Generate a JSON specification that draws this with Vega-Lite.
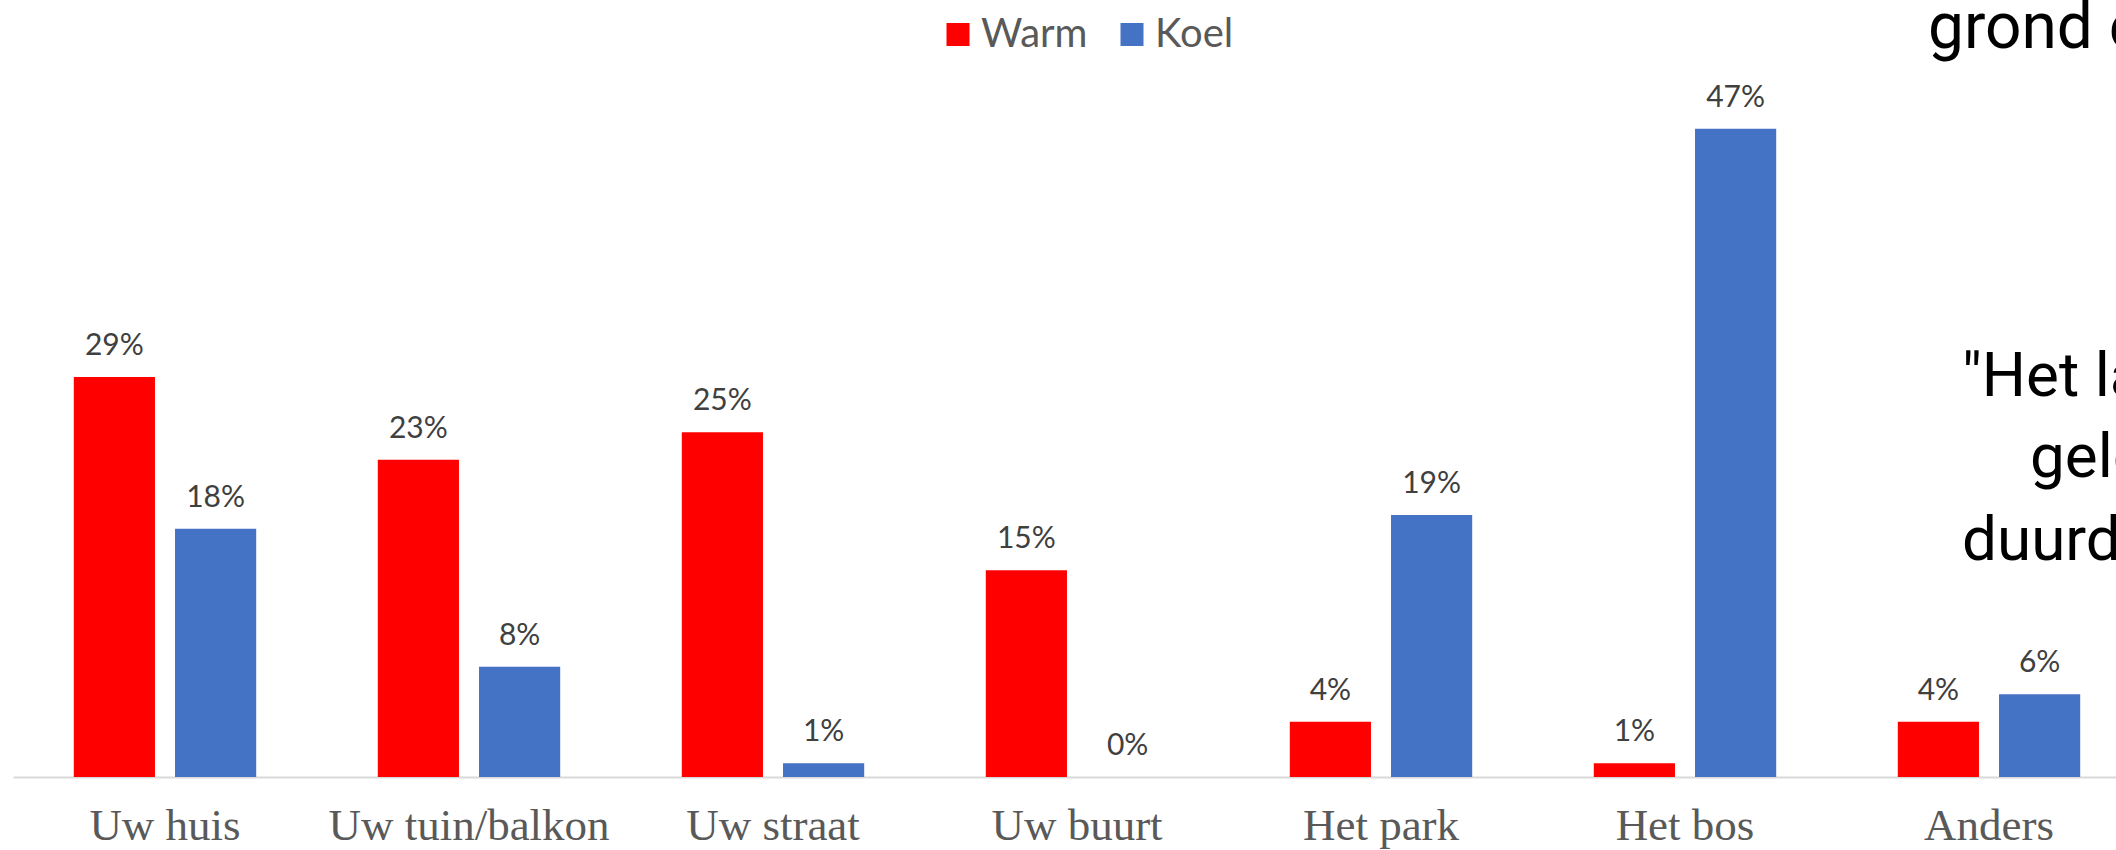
{
  "$schema": "https://vega.github.io/schema/vega-lite/v6.json",
  "width": 2116,
  "height": 689.5,
  "autosize": {"type": "none"},
  "padding": {"left": 0, "right": 0, "top": 87.5, "bottom": 73},
  "background": "#ffffff",
  "config": {"view": {"stroke": null}, "font": "Lato"},
  "datasets": {
    "bars": [
      {"plaats": "Uw huis", "type": "Warm", "waarde": 0.29},
      {"plaats": "Uw huis", "type": "Koel", "waarde": 0.18},
      {"plaats": "Uw tuin/balkon", "type": "Warm", "waarde": 0.23},
      {"plaats": "Uw tuin/balkon", "type": "Koel", "waarde": 0.08},
      {"plaats": "Uw straat", "type": "Warm", "waarde": 0.25},
      {"plaats": "Uw straat", "type": "Koel", "waarde": 0.01},
      {"plaats": "Uw buurt", "type": "Warm", "waarde": 0.15},
      {"plaats": "Uw buurt", "type": "Koel", "waarde": 0.0},
      {"plaats": "Het park", "type": "Warm", "waarde": 0.04},
      {"plaats": "Het park", "type": "Koel", "waarde": 0.19},
      {"plaats": "Het bos", "type": "Warm", "waarde": 0.01},
      {"plaats": "Het bos", "type": "Koel", "waarde": 0.47},
      {"plaats": "Anders", "type": "Warm", "waarde": 0.04},
      {"plaats": "Anders", "type": "Koel", "waarde": 0.06}
    ],
    "notes": [
      {"plaats": "Anders", "groep": "a", "pos": 0.5287, "note": "grond e"},
      {"plaats": "Anders", "groep": "b", "pos": 0.2763, "note": "\"Het la"},
      {"plaats": "Anders", "groep": "c", "pos": 0.2176, "note": "geld"},
      {"plaats": "Anders", "groep": "b", "pos": 0.1574, "note": "duurde"}
    ]
  },
  "layer": [
    {
      "data": {"name": "bars"},
      "mark": {"type": "bar"},
      "encoding": {
        "x": {
          "field": "plaats", "type": "nominal",
          "scale": {"domain": ["Uw huis", "Uw tuin/balkon", "Uw straat", "Uw buurt", "Het park", "Het bos", "Anders"], "range": [13, 2141], "paddingInner": 0.4, "paddingOuter": 0.2},
          "axis": {"title": null, "labelAngle": 0, "ticks": false, "tickSize": 0, "domainColor": "#D9D9D9", "domainWidth": 2, "labelFont": "Liberation Serif", "labelFontSize": 45, "labelColor": "#595959", "labelBaseline": "alphabetic", "labelPadding": 62, "labelLimit": 400}
        },
        "xOffset": {"field": "type", "type": "nominal", "scale": {"domain": ["Warm", "Koel"], "paddingInner": 0.198, "paddingOuter": 0}},
        "y": {"field": "waarde", "type": "quantitative", "scale": {"domain": [0, 0.5]}, "axis": null},
        "color": {
          "field": "type", "type": "nominal",
          "scale": {"domain": ["Warm", "Koel"], "range": ["#FF0000", "#4472C4"]},
          "legend": {"title": null, "orient": "none", "direction": "horizontal", "legendX": 938, "legendY": -73, "symbolType": "square", "symbolSize": 529, "symbolStrokeWidth": 0, "symbolOpacity": 1, "labelFontSize": 40, "labelFont": "Lato", "labelColor": "#595959", "labelOffset": 3, "columnPadding": 24, "padding": 0}
        }
      }
    },
    {
      "data": {"name": "bars"},
      "mark": {"type": "text", "baseline": "alphabetic", "dy": -22, "fontSize": 30, "font": "Lato", "color": "#404040"},
      "encoding": {
        "x": {"field": "plaats", "type": "nominal", "scale": {"domain": ["Uw huis", "Uw tuin/balkon", "Uw straat", "Uw buurt", "Het park", "Het bos", "Anders"]}},
        "xOffset": {"field": "type", "type": "nominal", "scale": {"domain": ["Warm", "Koel"]}},
        "y": {"field": "waarde", "type": "quantitative", "scale": {"domain": [0, 0.5]}},
        "text": {"field": "waarde", "type": "quantitative", "format": ".0%"}
      }
    },
    {
      "data": {"name": "notes"},
      "transform": [{"filter": "datum.groep == 'a'"}],
      "mark": {"type": "text", "align": "left", "baseline": "alphabetic", "dx": -61, "fontSize": 64, "font": "Roboto", "color": "#000000"},
      "encoding": {
        "x": {"field": "plaats", "type": "nominal", "scale": {"domain": ["Uw huis", "Uw tuin/balkon", "Uw straat", "Uw buurt", "Het park", "Het bos", "Anders"]}},
        "y": {"field": "pos", "type": "quantitative", "scale": {"domain": [0, 0.5]}},
        "text": {"field": "note"}
      }
    },
    {
      "data": {"name": "notes"},
      "transform": [{"filter": "datum.groep == 'b'"}],
      "mark": {"type": "text", "align": "left", "baseline": "alphabetic", "dx": -27, "fontSize": 62, "font": "Roboto", "color": "#000000"},
      "encoding": {
        "x": {"field": "plaats", "type": "nominal", "scale": {"domain": ["Uw huis", "Uw tuin/balkon", "Uw straat", "Uw buurt", "Het park", "Het bos", "Anders"]}},
        "y": {"field": "pos", "type": "quantitative", "scale": {"domain": [0, 0.5]}},
        "text": {"field": "note"}
      }
    },
    {
      "data": {"name": "notes"},
      "transform": [{"filter": "datum.groep == 'c'"}],
      "mark": {"type": "text", "align": "left", "baseline": "alphabetic", "dx": 41, "fontSize": 62, "font": "Roboto", "color": "#000000"},
      "encoding": {
        "x": {"field": "plaats", "type": "nominal", "scale": {"domain": ["Uw huis", "Uw tuin/balkon", "Uw straat", "Uw buurt", "Het park", "Het bos", "Anders"]}},
        "y": {"field": "pos", "type": "quantitative", "scale": {"domain": [0, 0.5]}},
        "text": {"field": "note"}
      }
    }
  ]
}
